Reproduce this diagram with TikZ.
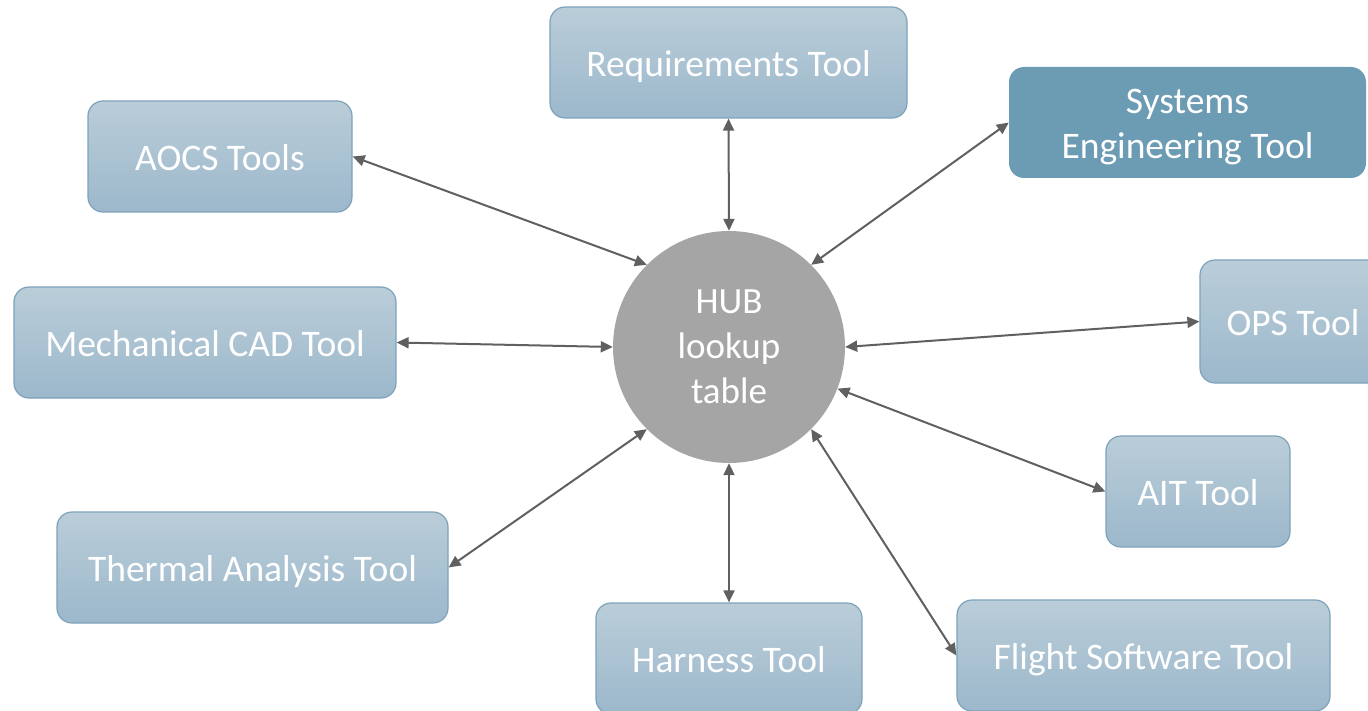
\documentclass[tikz,border=0pt]{standalone}
\usepackage{fontspec}
\setmainfont{Carlito}
\usetikzlibrary{arrows.meta,shapes.geometric}
\definecolor{boxtop}{HTML}{BACDD9}
\definecolor{boxbot}{HTML}{9CB8CB}
\definecolor{boxline}{HTML}{7EA2BA}
\definecolor{sysfill}{HTML}{6C9BB4}
\definecolor{hubfill}{HTML}{A5A5A5}
\definecolor{arrowcol}{HTML}{606060}
\newcommand{\lowline}[1]{\raisebox{-5pt}[\height][\depth]{#1}}
\tikzset{
  boxfont/.style={text=white, inner sep=0pt, font=\fontsize{37.5}{45}\selectfont, align=center},
  toolbox/.style={rectangle, rounded corners=15pt, draw=boxline, line width=1.2pt,
    top color=boxtop, bottom color=boxbot, boxfont,
    execute at begin node={\rule[-0.21em]{0pt}{1.18em}}},
  sysbox/.style={rectangle, rounded corners=15pt, draw=none, fill=sysfill, boxfont},
  hubnode/.style={circle, fill=hubfill, text=white, inner sep=0pt,
    minimum size=232pt, font=\fontsize{37}{45}\selectfont, align=center},
  link/.style={draw=arrowcol, line width=2pt,
    {Triangle[length=12pt,width=11pt]}-{Triangle[length=12pt,width=11pt]}}
}
\begin{document}
\begin{tikzpicture}[x=1pt,y=-1pt]
\useasboundingbox (0,0) rectangle (1368,711);
\clip (0,0) rectangle (1368,711);
\node[hubnode] (hub) at (729,347) {HUB\\lookup\\table};
\node[toolbox, minimum width=357pt, minimum height=111pt] (req) at (728.5,62.5) {Requirements Tool};
\node[sysbox, minimum width=357pt, minimum height=111pt] (sys) at (1187.5,122.5) {\lowline{Systems}\\\lowline{Engineering Tool}};
\node[toolbox, minimum width=264pt, minimum height=111pt] (aocs) at (220,156.5) {AOCS Tools};
\node[toolbox, minimum width=382pt, minimum height=111pt] (mech) at (205,342.5) {Mechanical CAD Tool};
\node[toolbox, minimum width=186pt, minimum height=123pt] (ops) at (1293,321.5) {OPS Tool};
\node[toolbox, minimum width=184pt, minimum height=111pt] (ait) at (1198,491.5) {AIT Tool};
\node[toolbox, minimum width=391pt, minimum height=111pt] (therm) at (252.5,567.5) {Thermal Analysis Tool};
\node[toolbox, minimum width=266pt, minimum height=111pt] (harn) at (729,658.5) {Harness Tool};
\node[toolbox, minimum width=373pt, minimum height=111pt] (flight) at (1143.5,655.5) {Flight Software Tool};
\draw[link] (hub.north) -- (req.south);
\draw[link] (hub.45) -- (sys.west);
\draw[link] (hub.135) -- (aocs.east);
\draw[link] (hub.west) -- (mech.east);
\draw[link] (hub.east) -- (ops.west);
\draw[link] (hub.-21) -- (ait.west);
\draw[link] (hub.225) -- (therm.east);
\draw[link] (hub.south) -- (harn.north);
\draw[link] (hub.-45) -- (flight.west);
\end{tikzpicture}
\end{document}
